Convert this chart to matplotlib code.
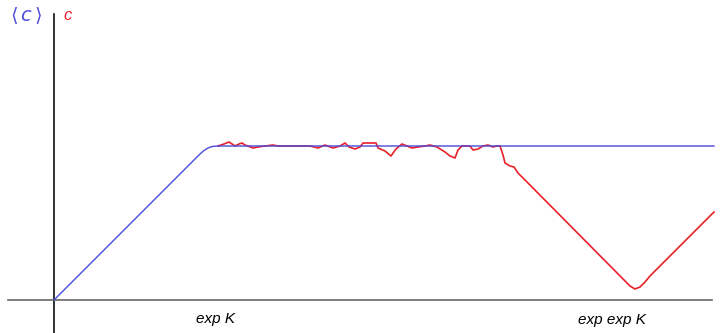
import matplotlib.pyplot as plt

# chart is drawn in plain units: x axis at y=0, y axis at x=0
blue_x = [0, 146, 150, 154, 158, 164, 660]
blue_y = [0, 146, 149.5, 152, 153.5, 154, 154]

# red curve (pixel x, pixel y)
red_px = [218, 224, 229, 232, 235, 239, 242, 245, 248, 253, 258, 265, 273, 278,
          290, 300, 310, 318, 325, 333, 340, 345, 349, 355, 360, 363, 376, 378,
          385, 391, 396, 402, 407, 412, 418, 425, 430, 437, 445, 450, 455, 458,
          462, 470, 473, 478, 483, 488, 493, 497, 500, 503, 505, 510, 514, 518,
          525, 630, 635, 640, 645, 650, 714]
red_py = [146, 144, 142, 144, 146, 144, 143, 145, 146, 148, 147, 146, 145, 146,
          146, 146, 146, 148, 145, 148, 146, 143, 147, 149, 147, 143, 143, 148,
          151, 156, 149, 144, 146, 148, 147, 146, 145, 147, 152, 156, 158, 150,
          146, 146, 150, 149, 146, 145, 147, 146, 146, 155, 163, 166, 167, 173,
          180, 286, 289, 287, 282, 276, 212]
red_x = [p - 54 for p in red_px]
red_y = [300 - p for p in red_py]

plt.rcParams['font.family'] = ['Liberation Sans', 'DejaVu Sans']
plt.rcParams['mathtext.fontset'] = 'dejavusans'

fig = plt.figure(figsize=(7.24, 3.33), dpi=100)
ax = fig.add_axes([0, 0, 1, 1])
ax.set_xlim(-54, 670)
ax.set_ylim(-33, 300)

ax.plot(red_x, red_y, color='#e8202a', lw=1.2, zorder=2)
ax.plot(blue_x, blue_y, color='#4a4ad8', lw=1.0, zorder=3)

for s in ['top', 'right']:
    ax.spines[s].set_visible(False)
ax.spines['left'].set_position(('data', 0))
ax.spines['bottom'].set_position(('data', 0))
ax.spines['left'].set_bounds(-33, 286)
ax.spines['bottom'].set_bounds(-46, 658)
ax.spines['left'].set_color('#111111')
ax.spines['bottom'].set_color('#666666')
ax.spines['left'].set_linewidth(1.2)
ax.spines['bottom'].set_linewidth(1.2)
ax.set_xticks([])
ax.set_yticks([])

ax.text(-28, 284, r'$\langle\,c\,\rangle$', color='#5050dc', fontsize=14,
        ha='center', va='center')
ax.text(14, 284, 'c', color='#e8202a', fontsize=12, style='italic',
        ha='center', va='center')
ax.text(161, -19, 'exp K', fontsize=11, style='italic', ha='center', va='center')
ax.text(558, -20, 'exp exp K', fontsize=11, style='italic', ha='center', va='center')

fig.savefig('out.png', dpi=100)
